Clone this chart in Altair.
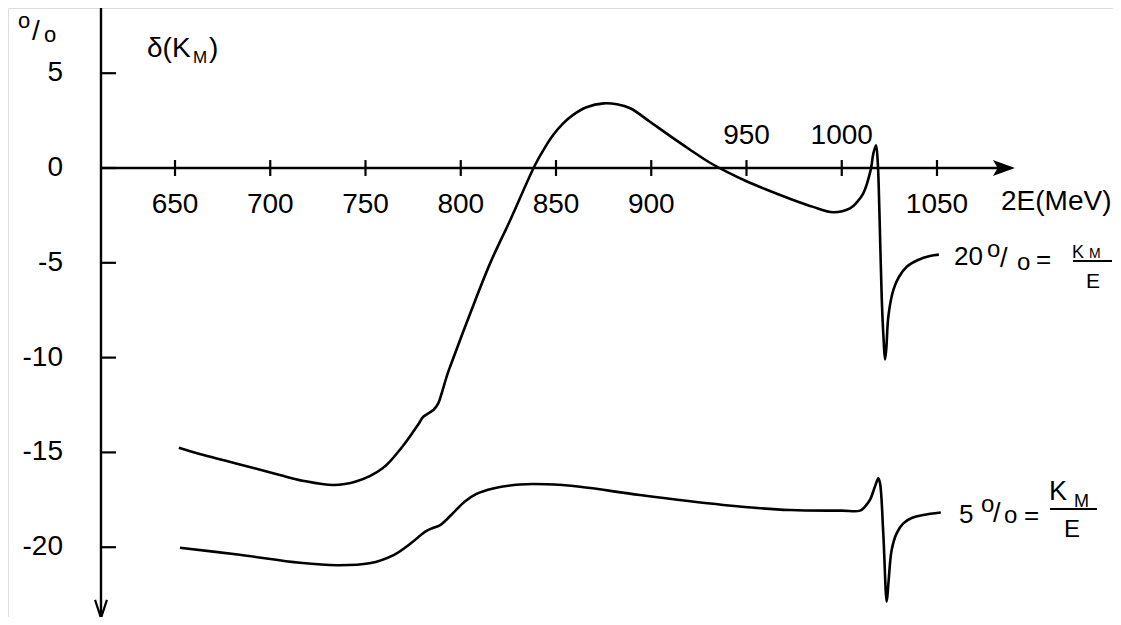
import altair as alt
import pandas as pd

# ---- data ----
upper_E = [652, 665, 682, 705, 717, 733, 745, 759, 770, 778, 780.3, 785.6, 788.2, 790, 792.6,
           794.4, 805, 815.4, 826, 839, 844, 848.6, 853.5, 859, 866, 875, 882, 889, 899.3, 910, 920,
           930, 940, 950, 960, 972.8, 985, 995.5, 1004.3, 1008, 1011.3, 1015.2, 1016.6, 1018.0,
           1018.9, 1019.8, 1021.0, 1022.0, 1022.7, 1023.4, 1024.5, 1027.1, 1030, 1034.1, 1040,
           1046.3, 1051]
upper_v = [-14.75, -15.14, -15.58, -16.19, -16.49, -16.72, -16.54, -15.84, -14.61, -13.47, -13.12,
           -12.76, -12.41, -11.88, -11.0, -10.48, -7.66, -5.03, -2.74, 0.16, 1.05, 1.75, 2.33, 2.80,
           3.20, 3.41, 3.36, 3.15, 2.44, 1.68, 0.99, 0.33, -0.22, -0.70, -1.12, -1.62, -2.05, -2.33,
           -2.13, -1.8, -1.34, -0.1, 0.77, 1.2, 0.3, -2.4, -6.9, -9.1, -10.1, -9.5, -7.8, -6.43,
           -5.75, -5.21, -4.85, -4.64, -4.57]

lower_E = [652.6, 684, 715.6, 735, 752, 765, 775, 781, 785, 789, 795, 802, 808, 817, 831, 845,
           862.6, 894, 937.8, 972.8, 1000, 1009.6, 1012.2, 1014.8, 1017.4, 1019.2, 1020.1, 1021.8,
           1023.6, 1024.5, 1026.2, 1028.8, 1032.3, 1037, 1042.8, 1052]
lower_v = [-20.03, -20.4, -20.82, -20.95, -20.85, -20.4, -19.7, -19.2, -19.0, -18.85, -18.3, -17.6,
           -17.2, -16.9, -16.69, -16.68, -16.81, -17.25, -17.77, -18.04, -18.07, -18.07, -17.86,
           -17.51, -16.81, -16.37, -16.63, -19.27, -22.87, -21.9, -20.15, -19.27, -18.74, -18.45,
           -18.3, -18.17]

x_ticks = [650, 700, 750, 800, 850, 900, 950, 1000, 1050]
x_labels_below = [650, 700, 750, 800, 850, 900, 1050]
x_labels_above = [950, 1000]
y_ticks = [5, 0, -5, -10, -15, -20]

X_AXIS_START = 611.15   # MeV position of the vertical axis
X_AXIS_END = 1090.9     # arrow tip
Y_TOP = 8.6
Y_BOTTOM = -23.73

FONT = "Liberation Sans"

xs = alt.Scale(domain=[562.336, 1142.39], nice=False, zero=False)
ys = alt.Scale(domain=[-23.681, 8.439], nice=False, zero=False)

def X(field):
    return alt.X(field, type="quantitative", scale=xs, axis=None)

def Y(field):
    return alt.Y(field, type="quantitative", scale=ys, axis=None)

curves = pd.DataFrame(
    [{"E": e, "v": v, "s": "20"} for e, v in zip(upper_E, upper_v)]
    + [{"E": e, "v": v, "s": "5"} for e, v in zip(lower_E, lower_v)]
)

layers = []

# curves
layers.append(
    alt.Chart(curves).mark_line(color="black", strokeWidth=2.6, interpolate="catmull-rom")
    .encode(x=X("E"), y=Y("v"), detail="s:N")
)

# vertical axis
layers.append(
    alt.Chart(pd.DataFrame([{"x": X_AXIS_START, "y": Y_TOP, "y2": Y_BOTTOM}]))
    .mark_rule(color="black", strokeWidth=2.4)
    .encode(x=X("x"), y=Y("y"), y2="y2")
)
# horizontal axis
layers.append(
    alt.Chart(pd.DataFrame([{"x": X_AXIS_START, "x2": X_AXIS_END - 5, "y": 0}]))
    .mark_rule(color="black", strokeWidth=2.4)
    .encode(x=X("x"), x2="x2", y=Y("y"))
)
# x ticks (cross the axis)
layers.append(
    alt.Chart(pd.DataFrame({"x": x_ticks, "y": [-0.42] * len(x_ticks), "y2": [0.42] * len(x_ticks)}))
    .mark_rule(color="black", strokeWidth=2.2)
    .encode(x=X("x"), y=Y("y"), y2="y2")
)
# y ticks (to the right)
layers.append(
    alt.Chart(pd.DataFrame({"x": [X_AXIS_START] * len(y_ticks),
                            "x2": [X_AXIS_START + 7.9] * len(y_ticks), "y": y_ticks}))
    .mark_rule(color="black", strokeWidth=2.2)
    .encode(x=X("x"), x2="x2", y=Y("y"))
)
# arrow heads
layers.append(
    alt.Chart(pd.DataFrame([{"x": X_AXIS_END, "y": 0}]))
    .mark_point(shape="M0,0L-1,-0.36L-0.78,0L-1,0.36Z", size=1936, filled=True,
                color="black", opacity=1, strokeWidth=0)
    .encode(x=X("x"), y=Y("y"))
)
layers.append(
    alt.Chart(pd.DataFrame([{"x": X_AXIS_START, "y": Y_BOTTOM}]))
    .mark_point(shape="M-0.33,-1L0,0L0.33,-1", size=1296, filled=False,
                color="black", opacity=1, strokeWidth=2.2)
    .encode(x=X("x"), y=Y("y"))
)

# tick labels
layers.append(
    alt.Chart(pd.DataFrame({"x": x_labels_below, "y": [0] * len(x_labels_below),
                            "t": [str(v) for v in x_labels_below]}))
    .mark_text(font=FONT, fontSize=28, baseline="alphabetic", align="center", dy=45, color="black")
    .encode(x=X("x"), y=Y("y"), text="t:N")
)
layers.append(
    alt.Chart(pd.DataFrame({"x": x_labels_above, "y": [0] * len(x_labels_above),
                            "t": [str(v) for v in x_labels_above]}))
    .mark_text(font=FONT, fontSize=28, baseline="alphabetic", align="center", dy=-24, color="black")
    .encode(x=X("x"), y=Y("y"), text="t:N")
)
layers.append(
    alt.Chart(pd.DataFrame({"y": y_ticks, "t": [str(v) for v in y_ticks]}))
    .mark_text(font=FONT, fontSize=28, baseline="middle", align="right", color="black")
    .encode(x=alt.value(55), y=Y("y"), text="t:N")
)

# free text pieces: (text, x, y baseline, font size) in plot pixels
def txt(t, x, y, size):
    return (alt.Chart(pd.DataFrame([{"t": t}]))
            .mark_text(font=FONT, fontSize=size, baseline="alphabetic", align="left", color="black")
            .encode(x=alt.value(x), y=alt.value(y), text="t:N"))

def bar(x1, x2, y):
    return (alt.Chart(pd.DataFrame([{"a": 0}]))
            .mark_rule(color="black", strokeWidth=2.2)
            .encode(x=alt.value(x1), x2=alt.value(x2), y=alt.value(y)))

# axis title 2E(MeV)
layers.append(txt("2E(MeV)", 993, 202, 28))
# top-left unit and quantity
layers += [txt("o", 10, 20, 22), txt("/", 24, 32, 28), txt("o", 36, 34, 22)]
layers += [txt("δ(K", 139, 49, 28), txt("M", 185, 55, 17), txt(")", 201, 49, 28)]

# upper curve label: 20 %o = K_M / E
layers += [txt("20", 946, 257, 26), txt("o", 979, 249, 24), txt("/", 992, 259, 27),
           txt("o", 1009, 262, 24), txt("=", 1028, 260, 26),
           txt("K", 1064, 250, 18), txt("M", 1081, 250, 14), bar(1065, 1104, 253),
           txt("E", 1078, 280, 21)]
# lower curve label: 5 %o = K_M / E
layers += [txt("5", 951, 515, 26), txt("o", 973, 504, 24), txt("/", 985, 514, 27),
           txt("o", 996, 515, 24), txt("=", 1016, 516, 26),
           txt("K", 1041, 492, 27), txt("M", 1066, 499, 18), bar(1042, 1089, 501),
           txt("E", 1056, 529, 24)]

chart = alt.layer(*layers).properties(
    width=1105, height=609,
    autosize=alt.AutoSizeParams(type="none"),
    padding=0,
).configure_view(stroke=None).configure(background="white")

chart.save("out.html", embed_options={"renderer": "svg", "actions": False})
